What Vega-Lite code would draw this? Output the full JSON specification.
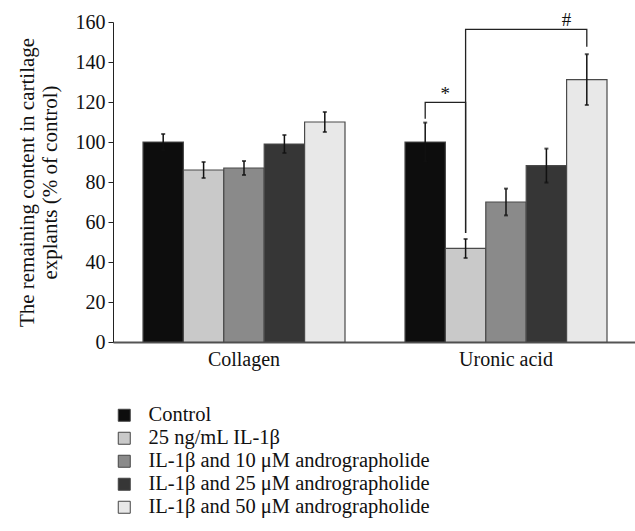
{
  "$schema": "https://vega.github.io/schema/vega-lite/v6.json",
  "autosize": "none",
  "width": 524,
  "height": 320,
  "padding": {"left": 113, "top": 22, "right": 0, "bottom": 189},
  "background": "white",
  "config": {
    "view": {"stroke": null},
    "font": "Liberation Serif",
    "axis": {"labelFont": "Liberation Serif", "titleFont": "Liberation Serif", "grid": false, "titleFontWeight": "normal", "labelOverlap": false, "labelSeparation": 0},
    "axisY": {"labelOverlap": false, "labelFontSize": 20, "labelColor": "#111", "labelPadding": 3, "tickSize": 5, "tickColor": "#222", "domainColor": "#222", "titleFontSize": 21, "titleLineHeight": 23, "titleColor": "#111", "titlePadding": 15},
    "legend": {"labelFont": "Liberation Serif"}
  },
  "datasets": {
    "bars": [
      {"c": "Collagen", "g": "Control", "v": 100, "lo": 96, "hi": 104},
      {"c": "Collagen", "g": "25 ng/mL IL-1β", "v": 86, "lo": 82, "hi": 90},
      {"c": "Collagen", "g": "IL-1β and 10 μM andrographolide", "v": 87, "lo": 83.5, "hi": 90.5},
      {"c": "Collagen", "g": "IL-1β and 25 μM andrographolide", "v": 99, "lo": 94.5, "hi": 103.5},
      {"c": "Collagen", "g": "IL-1β and 50 μM andrographolide", "v": 110, "lo": 105, "hi": 115},
      {"c": "Uronic acid", "g": "Control", "v": 100, "lo": 90.3, "hi": 109.7},
      {"c": "Uronic acid", "g": "25 ng/mL IL-1β", "v": 46.8, "lo": 42, "hi": 51.5},
      {"c": "Uronic acid", "g": "IL-1β and 10 μM andrographolide", "v": 70, "lo": 63.3, "hi": 76.7},
      {"c": "Uronic acid", "g": "IL-1β and 25 μM andrographolide", "v": 88.2, "lo": 79.7, "hi": 96.7},
      {"c": "Uronic acid", "g": "IL-1β and 50 μM andrographolide", "v": 131.2, "lo": 118.5, "hi": 143.9}
    ],
    "star": [
      {"c": "Uronic acid", "g": "Control", "v": 111.6, "o": 1},
      {"c": "Uronic acid", "g": "Control", "v": 119.8, "o": 2},
      {"c": "Uronic acid", "g": "25 ng/mL IL-1β", "v": 119.8, "o": 3},
      {"c": "Uronic acid", "g": "25 ng/mL IL-1β", "v": 54.5, "o": 4}
    ],
    "hash": [
      {"c": "Uronic acid", "g": "25 ng/mL IL-1β", "v": 54.5, "o": 1},
      {"c": "Uronic acid", "g": "25 ng/mL IL-1β", "v": 156.3, "o": 2},
      {"c": "Uronic acid", "g": "IL-1β and 50 μM andrographolide", "v": 156.3, "o": 3},
      {"c": "Uronic acid", "g": "IL-1β and 50 μM andrographolide", "v": 147.6, "o": 4}
    ],
    "labels": [
      {"c": "Uronic acid", "g": "Control", "v": 124, "t": "*"},
      {"c": "Uronic acid", "g": "IL-1β and 25 μM andrographolide", "v": 161, "t": "#"}
    ]
  },
  "layer": [
    {
      "data": {"name": "bars"},
      "mark": {"type": "bar", "stroke": "#4a4a4a", "strokeWidth": 1.2},
      "encoding": {
        "x": {
          "field": "c", "type": "nominal", "title": null,
          "scale": {"domain": ["Collagen", "Uronic acid"], "paddingInner": 0.229, "paddingOuter": 0.1145},
          "axis": {"labelAngle": 0, "ticks": false, "domainColor": "#555", "domainWidth": 2, "labelFontSize": 20, "labelColor": "#111", "labelPadding": 7}
        },
        "xOffset": {
          "field": "g", "type": "nominal",
          "scale": {"domain": ["Control", "25 ng/mL IL-1β", "IL-1β and 10 μM andrographolide", "IL-1β and 25 μM andrographolide", "IL-1β and 50 μM andrographolide"], "paddingInner": 0, "paddingOuter": 0}
        },
        "y": {
          "field": "v", "type": "quantitative",
          "title": ["The remaining content in cartilage", "explants (% of control)"],
          "scale": {"domain": [0, 160], "nice": false},
          "axis": {"tickCount": 8, "labelOverlap": false}
        },
        "fill": {
          "field": "g", "type": "nominal",
          "scale": {"domain": ["Control", "25 ng/mL IL-1β", "IL-1β and 10 μM andrographolide", "IL-1β and 25 μM andrographolide", "IL-1β and 50 μM andrographolide"],
                    "range": ["#0d0d0d", "#c9c9c9", "#8a8a8a", "#363636", "#e8e8e8"]},
          "legend": {"orient": "none", "legendX": 1, "legendY": 383, "title": null, "symbolType": "square", "symbolSize": 144, "symbolStrokeColor": "#444", "symbolStrokeWidth": 1, "labelFontSize": 20.5, "labelColor": "#111", "labelOffset": 14, "rowPadding": 2, "labelLimit": 500}
        }
      }
    },
    {
      "data": {"name": "bars"},
      "mark": {"type": "rule", "color": "#111", "strokeWidth": 1.5},
      "encoding": {
        "x": {"field": "c", "type": "nominal"},
        "xOffset": {"field": "g", "type": "nominal"},
        "y": {"field": "lo", "type": "quantitative"},
        "y2": {"field": "hi"}
      }
    },
    {
      "data": {"name": "bars"},
      "mark": {"type": "tick", "color": "#111", "size": 4, "thickness": 2},
      "encoding": {
        "x": {"field": "c", "type": "nominal"},
        "xOffset": {"field": "g", "type": "nominal"},
        "y": {"field": "lo", "type": "quantitative"}
      }
    },
    {
      "data": {"name": "bars"},
      "mark": {"type": "tick", "color": "#111", "size": 4, "thickness": 2},
      "encoding": {
        "x": {"field": "c", "type": "nominal"},
        "xOffset": {"field": "g", "type": "nominal"},
        "y": {"field": "hi", "type": "quantitative"}
      }
    },
    {
      "data": {"name": "star"},
      "mark": {"type": "line", "color": "#222", "strokeWidth": 1.3, "xOffset": -1.5},
      "encoding": {
        "x": {"field": "c", "type": "nominal"},
        "xOffset": {"field": "g", "type": "nominal"},
        "y": {"field": "v", "type": "quantitative"},
        "order": {"field": "o"}
      }
    },
    {
      "data": {"name": "hash"},
      "mark": {"type": "line", "color": "#222", "strokeWidth": 1.3, "xOffset": 2},
      "encoding": {
        "x": {"field": "c", "type": "nominal"},
        "xOffset": {"field": "g", "type": "nominal"},
        "y": {"field": "v", "type": "quantitative"},
        "order": {"field": "o"}
      }
    },
    {
      "data": {"name": "labels"},
      "mark": {"type": "text", "fontSize": 19, "color": "#111", "baseline": "middle", "dx": 20},
      "encoding": {
        "x": {"field": "c", "type": "nominal"},
        "xOffset": {"field": "g", "type": "nominal"},
        "y": {"field": "v", "type": "quantitative"},
        "text": {"field": "t"}
      }
    }
  ]
}
